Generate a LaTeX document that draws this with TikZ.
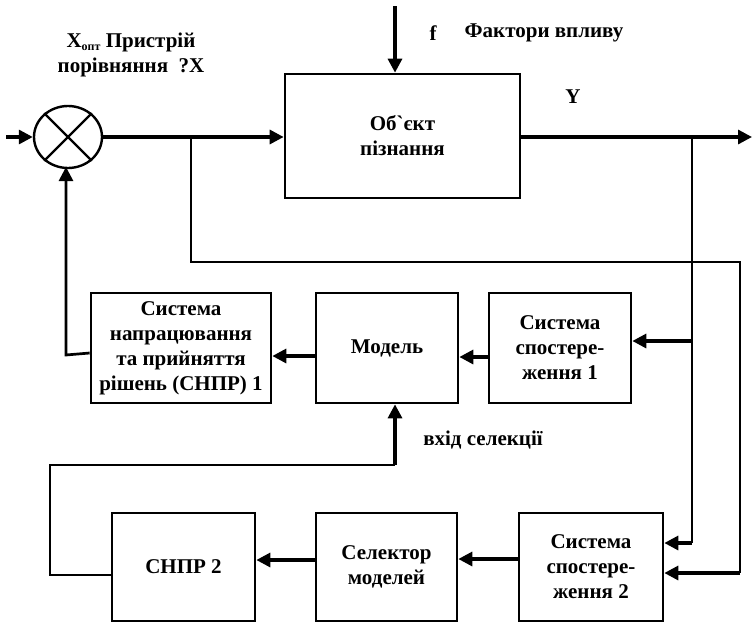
\documentclass[tikz,border=0pt]{standalone}
\usepackage{fontspec}
\setmainfont{Liberation Serif}[Ligatures=TeXOff]
\usetikzlibrary{shapes.geometric,arrows.meta}
\begin{document}
\begin{tikzpicture}[x=1pt,y=-1pt,
  font=\fontsize{21}{25}\selectfont\bfseries,
  box/.style={draw, line width=2.7pt, align=center, inner sep=0pt},
  arr/.style={line width=3.2pt, -{Triangle[length=14pt,width=14pt]}},
  thinline/.style={line width=2pt},
  lbl/.style={inner sep=0pt, align=center}]
\fill[white] (0,0) rectangle (752,624);
\useasboundingbox (0,0) rectangle (752,624);

% comparator
\node[ellipse, draw, line width=2.4pt, minimum width=68pt, minimum height=62pt, inner sep=0pt] (cmp) at (68,137) {};
\draw[line width=2.2pt] (cmp.135) -- (cmp.-45);
\draw[line width=2.2pt] (cmp.45) -- (cmp.-135);

% boxes
\node[box, minimum width=235pt, minimum height=124pt] (obj) at (402.5,136) {Об`єкт\\пізнання};
\node[box, minimum width=180pt, minimum height=110pt] (snpr1) at (181,348) {Система\\напрацювання\\та прийняття\\рішень (СНПР) 1};
\node[box, minimum width=142pt, minimum height=110pt] (model) at (387,348) {Модель};
\node[box, minimum width=142pt, minimum height=110pt] (ss1) at (560,348) {Система\\спостере-\\ження 1};
\node[box, minimum width=143pt, minimum height=108pt] (snpr2) at (183.5,567) {СНПР 2};
\node[box, minimum width=141pt, minimum height=108pt] (sel) at (386.5,567) {Селектор\\моделей};
\node[box, minimum width=144pt, minimum height=108pt] (ss2) at (591,567) {Система\\спостере-\\ження 2};

% labels
\node[lbl] (lcmp) at (131,55) {X\raisebox{-0.35ex}{\fontsize{12}{12}\selectfont опт} Пристрій\\порівняння \ ?X};
\node[lbl] (lf) at (433,33) {f};
\node[lbl] (lfact) at (544,33) {Фактори впливу};
\node[lbl] (ly) at (573,97) {Y};
\node[lbl] (lsel) at (483,440) {вхід селекції};

% coordinates
\coordinate (in) at (6,137);
\coordinate (ftop) at (395,6);
\coordinate (out) at (752,137);
\coordinate (b1) at (191,137);
\coordinate (b1d) at (191,262);
\coordinate (b1r) at (740,262);
\coordinate (b1e) at (740,573);
\coordinate (b2) at (692,137);
\coordinate (b2m) at (692,341);
\coordinate (b2e) at (692,543);
\coordinate (fb1) at (66,355);
\coordinate (fb2) at (66,167);
\coordinate (s1) at (50,575);
\coordinate (s2) at (50,465);
\coordinate (s3) at (395,465);

% main path
\draw[arr] (in) -- (cmp.west);
\draw[arr] (cmp.east) -- (cmp.east -| obj.west);
\draw[arr] (ftop) -- (ftop |- obj.north);
\draw[arr] (obj.east |- out) -- (out);

% branches
\draw[thinline] (b1) -- (b1d) -- (b1r) -- (b1e);
\draw[arr] (b1e) -- (b1e -| ss2.east);
\draw[thinline] (b2) -- (b2e);
\draw[arr] (b2e) -- (b2e -| ss2.east);
\draw[arr] (b2m) -- (b2m -| ss1.east);

% middle row
\draw[arr] (ss1.west |- 0,357) -- (model.east |- 0,357);
\draw[arr] (model.west |- 0,356) -- (snpr1.east |- 0,356);
\draw[line width=2.7pt, -{Triangle[length=14pt,width=14pt]}] (snpr1.west |- 0,353) -- (fb1) -- (fb2);

% bottom row
\draw[arr] (ss2.west |- 0,559) -- (sel.east |- 0,559);
\draw[arr] (sel.west |- 0,560) -- (snpr2.east |- 0,560);
\draw[thinline] (snpr2.west |- s1) -- (s1) -- (s2) -- (s3);
\draw[arr] (s3) -- (s3 |- model.south);
\end{tikzpicture}
\end{document}
